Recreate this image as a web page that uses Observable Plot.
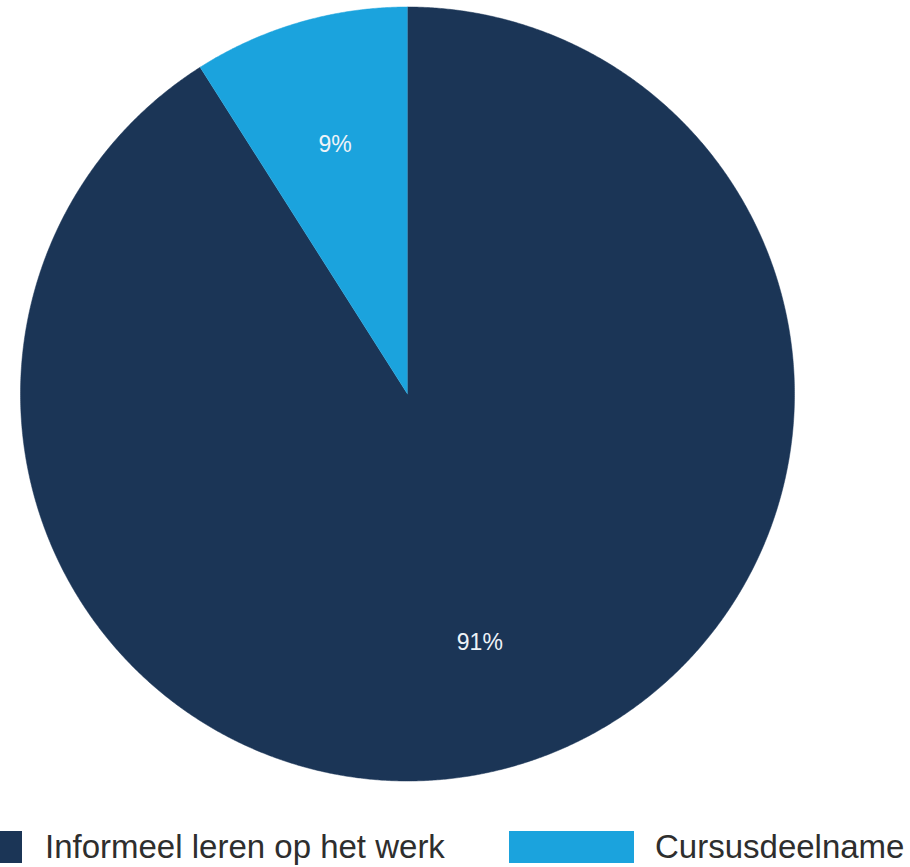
<!DOCTYPE html>
<html><head><meta charset="utf-8">
<script src="https://cdn.jsdelivr.net/npm/d3@7"></script>
<script src="https://cdn.jsdelivr.net/npm/@observablehq/plot@0.6"></script>
<style>
body{margin:0;background:#fff;font-family:"Liberation Sans",Arial,sans-serif;}
#wrap{position:relative;width:910px;height:867px;overflow:hidden;}
#chart{position:absolute;left:0;top:0;}
.sw{position:absolute;top:831px;height:32px;}
.lt{position:absolute;top:830px;font-size:33px;line-height:33px;color:#2e2e2e;white-space:nowrap;}
</style></head><body>
<div id="wrap"><div id="chart"></div><div id="legend"></div></div>
<script>
const categories = ["Informeel leren op het werk", "Cursusdeelname"];
const values = [91, 9];
const labels = ["91%", "9%"];
const colors = ["#1b3556", "#1ba3dd"];

const arcs = d3.pie().sort(null).value(d => d.value)(categories.map((c, i) => ({cat: c, value: values[i], label: labels[i]})));

const pts = [];
arcs.forEach(a => {
  pts.push({cat: a.data.cat, x: 0, y: 0});
  const n = Math.max(2, Math.ceil((a.endAngle - a.startAngle) / 0.005));
  for (let k = 0; k <= n; k++) {
    const t = a.startAngle + (a.endAngle - a.startAngle) * k / n;
    pts.push({cat: a.data.cat, x: Math.sin(t), y: Math.cos(t)});
  }
});
const labelPts = arcs.map(a => {
  const m = (a.startAngle + a.endAngle) / 2;
  return {label: a.data.label, x: 0.67 * Math.sin(m), y: 0.67 * Math.cos(m)};
});

const chart = Plot.plot({
  width: 910, height: 800,
  marginLeft: 20, marginRight: 116, marginTop: 6.5, marginBottom: 19.5,
  x: {domain: [-1, 1], axis: null},
  y: {domain: [-1, 1], axis: null},
  color: {domain: categories, range: colors},
  style: {background: "transparent"},
  marks: [
    Plot.line(pts, {x: "x", y: "y", z: "cat", fill: "cat", stroke: "cat", strokeWidth: 0.5, curve: "linear"}),
    Plot.text(labelPts, {x: "x", y: "y", text: "label", fill: "#eef3f8", fontSize: 23, fontFamily: "Liberation Sans, Arial, sans-serif"})
  ]
});
document.getElementById("chart").appendChild(chart);

const legend = document.getElementById("legend");
const legendLayout = [{sw: 0, w: 22, tx: 45}, {sw: 509, w: 125, tx: 655}];
categories.forEach((c, i) => {
  const s = document.createElement("div");
  s.className = "sw";
  s.style.left = legendLayout[i].sw + "px";
  s.style.width = legendLayout[i].w + "px";
  s.style.background = colors[i];
  legend.appendChild(s);
  const t = document.createElement("div");
  t.className = "lt";
  t.style.left = legendLayout[i].tx + "px";
  t.textContent = c;
  legend.appendChild(t);
});
</script>
</body></html>
